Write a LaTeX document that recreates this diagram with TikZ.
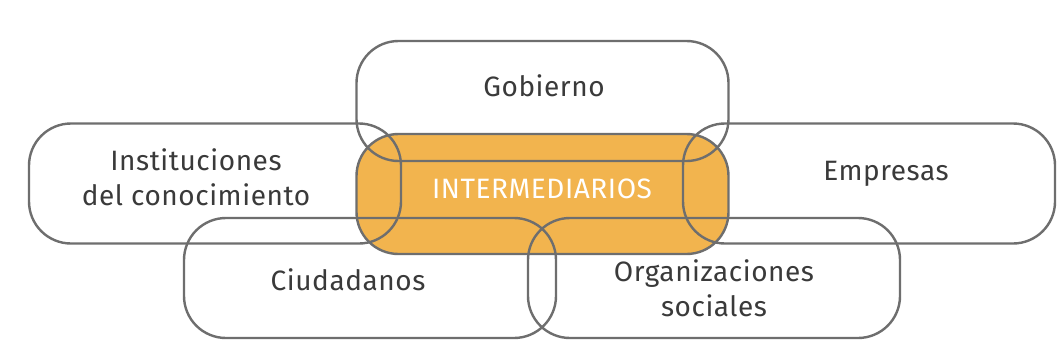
\documentclass[tikz,border=0pt]{standalone}
\usepackage{fontspec}
\setmainfont{Fira Sans}[LetterSpace=2]
\usetikzlibrary{positioning}

\definecolor{rim}{HTML}{6E6E6E}
\definecolor{ink}{HTML}{3A3A3A}
\definecolor{amber}{HTML}{F2B44E}

\tikzset{
  actor/.style={draw=rim, line width=2.4pt, rounded corners=42pt,
    minimum width=372pt, minimum height=120pt, inner sep=0pt},
  tag/.style={text=ink, font=\fontsize{28}{35}\selectfont, align=center}
}

\begin{document}
\begin{tikzpicture}[x=1pt,y=-1pt]

%frame of the whole picture
\useasboundingbox[fill=white] (0,0) rectangle (1064,361);

%the central box is filled first so the other outlines run over it
\node[actor, fill=amber] (inter) at (542.5,194) {};

%the five outer boxes
\node[actor] (gob) at (542.5,101) {};
\node[actor] (inst) at (215,183.5) {};
\node[actor] (emp) at (869,183.5) {};
\node[actor] (ciu) at (370,278) {};
\node[actor] (org) at (714,278) {};

%labels
\node[tag, text=white] (intertext) at (542,189) {INTERMEDIARIOS};
\node[tag] (gobtext) at (544,86) {Gobierno};
\node[tag] (insttext) at (196,177) {Instituciones\\del conocimiento};
\node[tag] (emptext) at (886,174) {Empresas};
\node[tag] (ciutext) at (348,280) {Ciudadanos};
\node[tag] (orgtext) at (714,288) {Organizaciones\\sociales};

\end{tikzpicture}
\end{document}
